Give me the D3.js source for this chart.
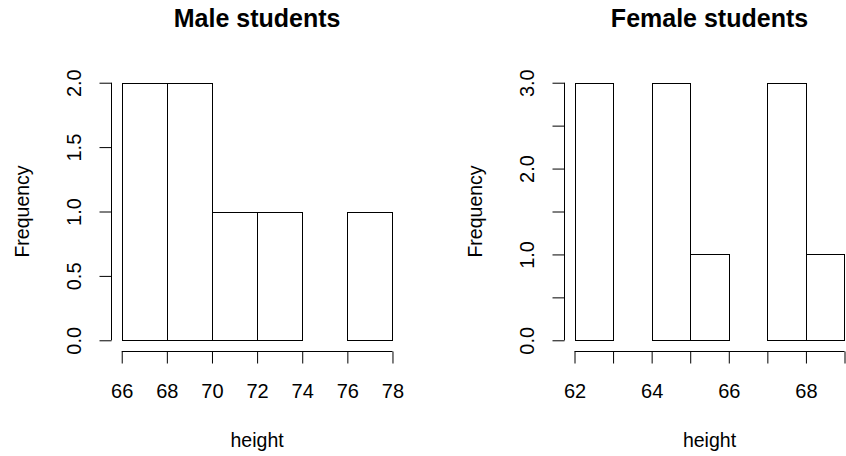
<!DOCTYPE html>
<html>
<head>
<meta charset="utf-8">
<script src="https://cdn.jsdelivr.net/npm/d3@7"></script>
<style>
body { margin: 0; background: #fff; }
text { font-family: "Liberation Sans", Arial, sans-serif; fill: #000; }
.title { font-weight: bold; font-size: 25px; }
.label { font-size: 19.5px; }
.tick text { font-size: 20px; }
</style>
</head>
<body>
<div id="chart"></div>
<script>
// data
var maleBreaks = [66, 68, 70, 72, 74, 76, 78];
var maleCounts = [2, 2, 1, 1, 0, 1];
var maleXTicks = [66, 68, 70, 72, 74, 76, 78];
var maleXLabels = [66, 68, 70, 72, 74, 76, 78];
var maleYTicks = [0, 0.5, 1, 1.5, 2];
var maleYLabels = [0, 0.5, 1, 1.5, 2];

var femaleBreaks = [62, 63, 64, 65, 66, 67, 68, 69];
var femaleCounts = [3, 0, 3, 1, 0, 3, 1];
var femaleXTicks = [62, 63, 64, 65, 66, 67, 68, 69];
var femaleXLabels = [62, 64, 66, 68];
var femaleYTicks = [0, 0.5, 1, 1.5, 2, 2.5, 3];
var femaleYLabels = [0, 1, 2, 3];

var width = 846, height = 456;

var svg = d3.select("#chart")
  .append("svg")
  .attr("width", width)
  .attr("height", height);

// one histogram panel, R base graphics look
var drawHist = function(opt) {
  var breaks = opt.breaks, counts = opt.counts;
  var lo = breaks[0], hi = breaks[breaks.length - 1];
  var ymax = d3.max(counts);
  var padX = (hi - lo) * 0.04, padY = ymax * 0.04;

  var x = d3.scaleLinear()
    .domain([lo - padX, hi + padX])
    .range([opt.left, opt.right]);
  var y = d3.scaleLinear()
    .domain([-padY, ymax + padY])
    .range([opt.bottom, opt.top]);

  var g = svg.append("g");

  var bins = counts.map(function(c, i) { return {x0: breaks[i], x1: breaks[i + 1], n: c}; });

  //bars
  g.append("g")
    .selectAll("rect")
    .data(bins)
    .enter()
    .append("rect")
    .attr("x", function(d) { return Math.round(x(d.x0)) + 0.5; })
    .attr("y", function(d) { return Math.round(y(d.n)) + 0.5; })
    .attr("width", function(d) { return Math.round(x(d.x1)) - Math.round(x(d.x0)); })
    .attr("height", function(d) { return Math.round(y(0)) - Math.round(y(d.n)); })
    .attr("fill", "white")
    .attr("stroke", "black")
    .attr("stroke-width", 1);

  // x axis
  var xAxis = g.append("g")
    .attr("transform", "translate(0," + (Math.round(opt.bottom) + 0.5) + ")")
    .call(d3.axisBottom(x)
      .tickValues(opt.xTicks)
      .tickSize(12)
      .tickSizeOuter(0)
      .tickFormat(function(d) { return opt.xLabels.indexOf(d) >= 0 ? d : ""; }));
  xAxis.select(".domain").remove();
  xAxis.selectAll(".tick line").attr("stroke", "#000");
  xAxis.append("line")
    .attr("x1", x(opt.xTicks[0])).attr("x2", x(opt.xTicks[opt.xTicks.length - 1]))
    .attr("stroke", "#000");
  xAxis.selectAll(".tick text").attr("fill", "#000").attr("dy", "0").attr("y", 46);

  // y axis
  var yAxis = g.append("g")
    .attr("transform", "translate(" + (Math.round(opt.left) + 0.5) + ",0)")
    .call(d3.axisLeft(y)
      .tickValues(opt.yTicks)
      .tickSize(12)
      .tickSizeOuter(0)
      .tickFormat(function(d) { return opt.yLabels.indexOf(d) >= 0 ? d3.format(".1f")(d) : ""; }));
  yAxis.select(".domain").remove();
  yAxis.selectAll(".tick line").attr("stroke", "#000");
  yAxis.append("line")
    .attr("y1", y(opt.yTicks[0])).attr("y2", y(opt.yTicks[opt.yTicks.length - 1]))
    .attr("stroke", "#000");
  yAxis.selectAll(".tick text")
    .attr("fill", "#000")
    .attr("x", null)
    .attr("dy", null)
    .attr("text-anchor", "middle")
    .attr("transform", "translate(-31,0) rotate(-90)");

  // labels
  var cx = (opt.left + opt.right) / 2;
  var cy = (opt.top + opt.bottom) / 2;
  g.append("text")
    .text(opt.title)
    .classed("title", true)
    .attr("text-anchor", "middle")
    .attr("x", cx)
    .attr("y", 27);

  g.append("text")
    .text("height")
    .classed("label", true)
    .attr("text-anchor", "middle")
    .attr("x", cx)
    .attr("y", 447);

  g.append("g")
    .attr("transform", "translate(" + (opt.left - 82) + "," + cy + ")")
    .append("text")
    .text("Frequency")
    .classed("label", true)
    .attr("text-anchor", "middle")
    .attr("transform", "rotate(-90)");
};

drawHist({
  breaks: maleBreaks, counts: maleCounts,
  xTicks: maleXTicks, xLabels: maleXLabels,
  yTicks: maleYTicks, yLabels: maleYLabels,
  left: 110.9, right: 403.3, top: 72.4, bottom: 350.6,
  title: "Male students"
});

drawHist({
  breaks: femaleBreaks, counts: femaleCounts,
  xTicks: femaleXTicks, xLabels: femaleXLabels,
  yTicks: femaleYTicks, yLabels: femaleYLabels,
  left: 563.7, right: 855.3, top: 72.4, bottom: 350.6,
  title: "Female students"
});
</script>
</body>
</html>
